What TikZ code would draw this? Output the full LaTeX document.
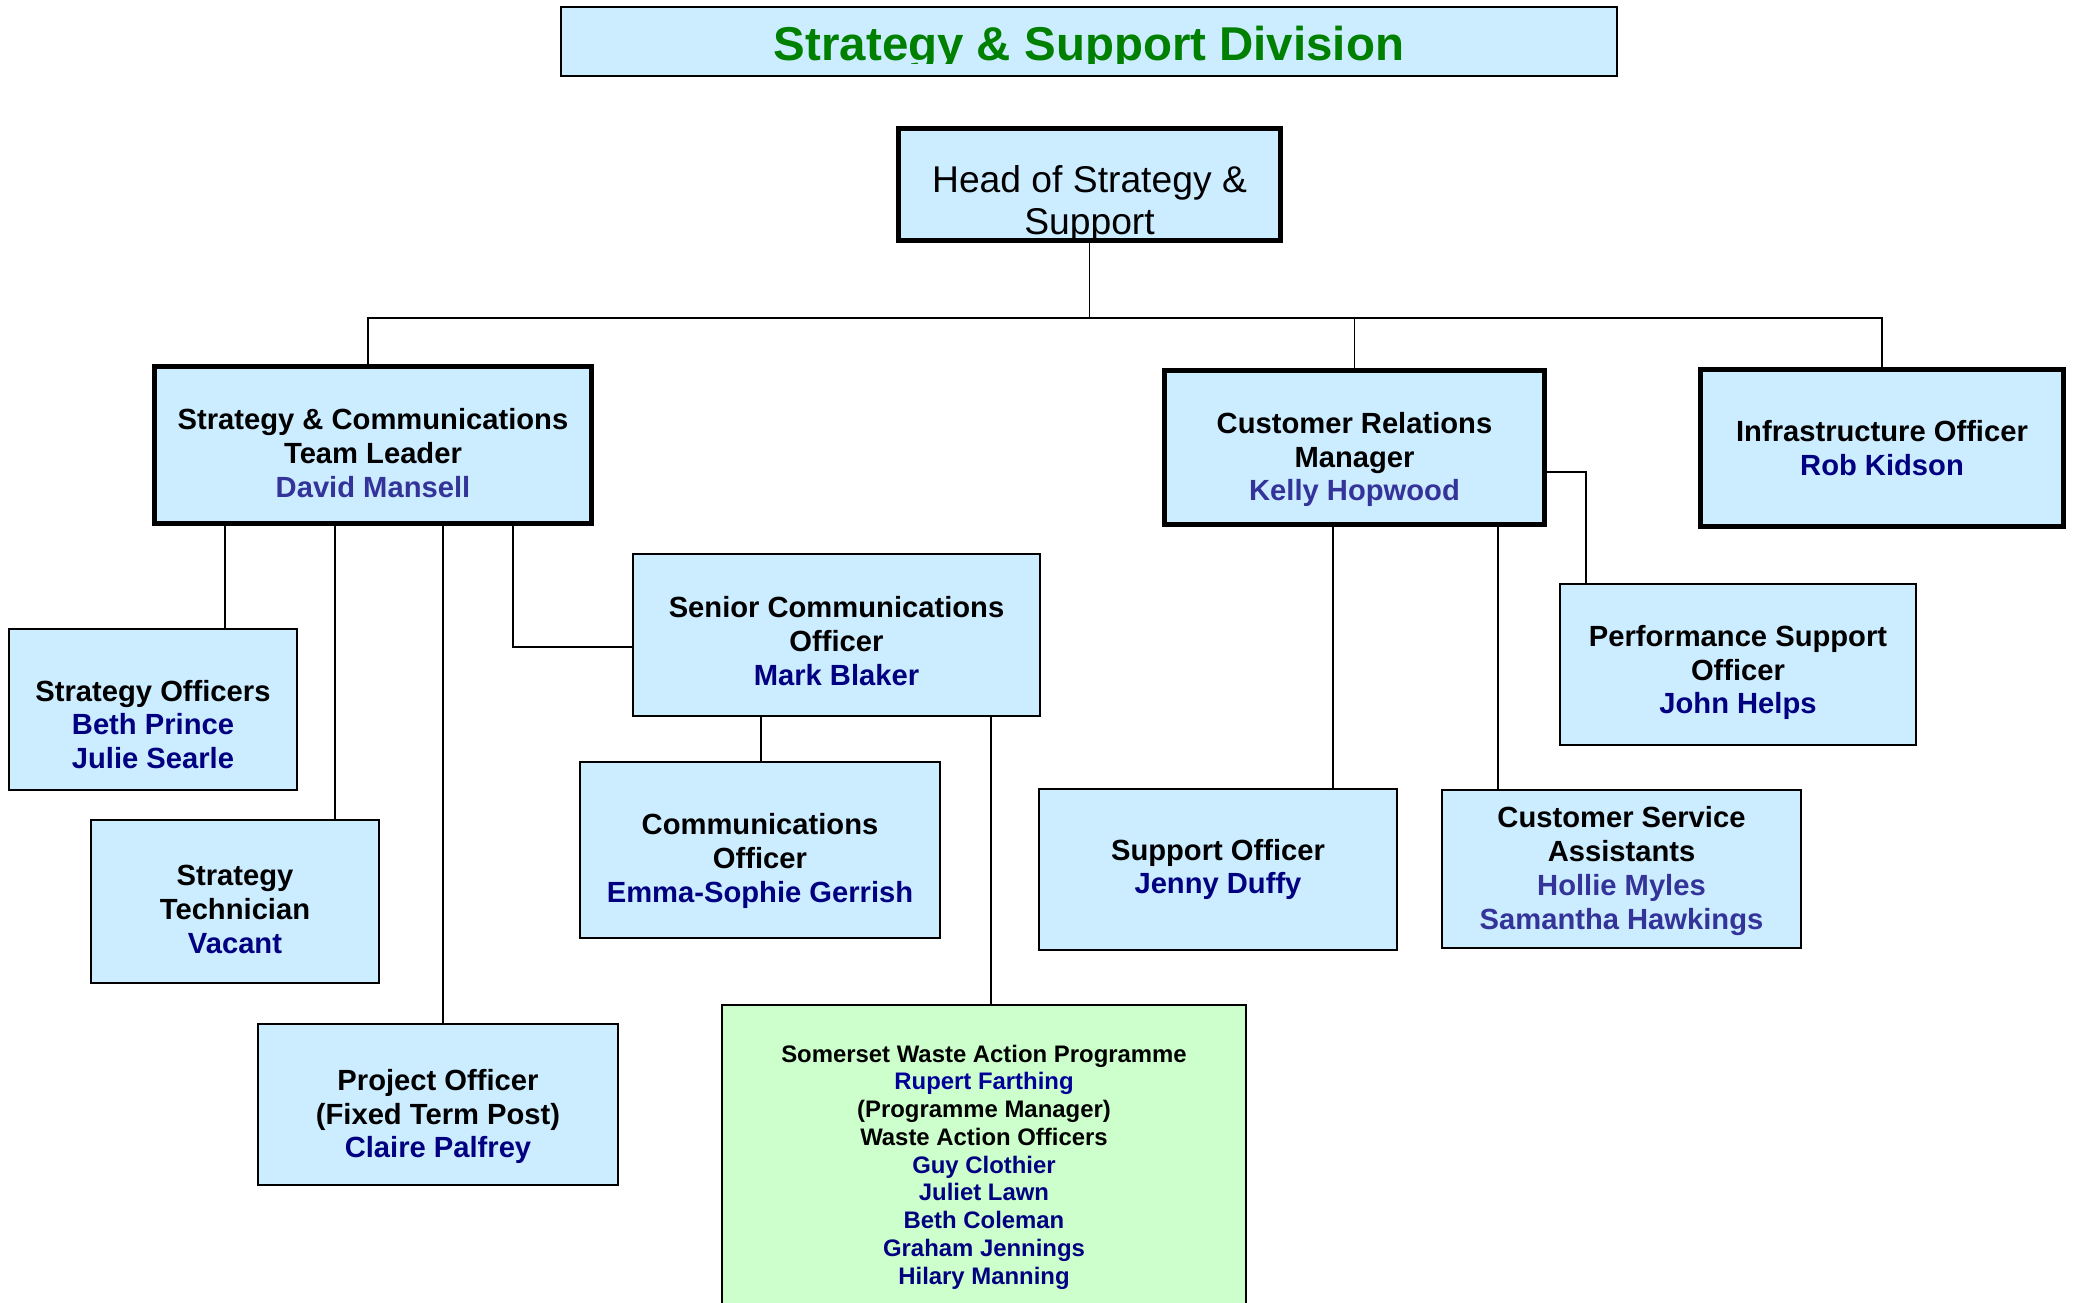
\documentclass[tikz,border=0pt]{standalone}
\usepackage{fontspec}
\setmainfont{Liberation Sans}
\usepackage{xcolor}
\definecolor{boxblue}{RGB}{204,236,255}
\definecolor{boxgreen}{RGB}{204,255,204}
\definecolor{titlegreen}{RGB}{0,128,0}
\definecolor{namenavy}{RGB}{0,0,128}
\definecolor{namepurple}{RGB}{51,51,153}
\definecolor{nameblue}{RGB}{0,0,153}

\begin{document}
\begin{tikzpicture}[
box/.style={draw, fill=boxblue, line width=0.5pt, inner sep=0pt},
leadbox/.style={box, line width=1.5pt},
boxtext/.style={inner sep=0pt, align=center, font=\bfseries\fontsize{8.3}{9.6}\selectfont},
link/.style={line width=0.4pt}
]
\useasboundingbox (0,0) rectangle (20.78,-13.03);

\node[box, line width=0.6pt, minimum width=10.56cm, minimum height=0.69cm] (title) at (10.89,-0.415) {};
\begin{scope}
\clip (title.north west) rectangle (16.17,-0.64);
\node[anchor=base, inner sep=0pt, text=titlegreen, font=\bfseries\fontsize{13.5}{16}\selectfont] (titletext) at (10.89,-0.61) {Strategy \& Support Division};
\end{scope}

\node[leadbox, minimum width=3.82cm, minimum height=1.12cm] (head) at (10.895,-1.845) {};
\node[align=center, inner sep=0pt, font=\fontsize{10.6}{11.9}\selectfont] (headtext) at (10.895,-2.04) {Head of Strategy \&\\Support};

\node[leadbox, minimum width=4.37cm, minimum height=1.57cm] (sct) at (3.73,-4.45) {};
\node[boxtext] (scttext) at ([yshift=-0.08cm]sct) {Strategy \& Communications\\Team Leader\\\textcolor{namepurple}{David Mansell}};
\node[leadbox, minimum width=3.80cm, minimum height=1.54cm] (crm) at (13.545,-4.475) {};
\node[boxtext] (crmtext) at ([yshift=-0.12cm]crm) {Customer Relations\\Manager\\\textcolor{namepurple}{Kelly Hopwood}};
\node[leadbox, minimum width=3.63cm, minimum height=1.57cm] (infra) at (18.82,-4.48) {};
\node[boxtext] (infratext) at (infra) {Infrastructure Officer\\\textcolor{namenavy}{Rob Kidson}};

\node[box, minimum width=2.88cm, minimum height=1.61cm] (stoff) at (1.53,-7.095) {};
\node[boxtext] (stofftext) at ([yshift=-0.15cm]stoff) {Strategy Officers\\\textcolor{namenavy}{Beth Prince}\\\textcolor{namenavy}{Julie Searle}};
\node[box, minimum width=2.88cm, minimum height=1.63cm] (stech) at (2.35,-9.015) {};
\node[boxtext] (stechtext) at ([yshift=-0.08cm]stech) {Strategy\\Technician\\\textcolor{namenavy}{Vacant}};
\node[box, minimum width=3.60cm, minimum height=1.61cm] (proj) at (4.38,-11.045) {};
\node[boxtext] (projtext) at ([yshift=-0.12cm]proj) {Project Officer\\(Fixed Term Post)\\\textcolor{namenavy}{Claire Palfrey}};
\node[box, minimum width=4.07cm, minimum height=1.62cm] (senior) at (8.365,-6.35) {};
\node[boxtext] (seniortext) at ([yshift=-0.06cm]senior) {Senior Communications\\Officer\\\textcolor{namenavy}{Mark Blaker}};
\node[box, minimum width=3.60cm, minimum height=1.76cm] (comms) at (7.60,-8.50) {};
\node[boxtext] (commstext) at ([yshift=-0.11cm]comms) {Communications\\Officer\\\textcolor{namenavy}{Emma-Sophie Gerrish}};
\node[box, fill=boxgreen, minimum width=5.24cm, minimum height=3.18cm] (swap) at (9.84,-11.64) {};
\node[boxtext, font=\bfseries\fontsize{6.8}{7.9}\selectfont] (swaptext) at ([yshift=-0.03cm]swap) {Somerset Waste Action Programme\\\textcolor{nameblue}{Rupert Farthing}\\(Programme Manager)\\Waste Action Officers\\\textcolor{namenavy}{Guy Clothier}\\\textcolor{namenavy}{Juliet Lawn}\\\textcolor{namenavy}{Beth Coleman}\\\textcolor{namenavy}{Graham Jennings}\\\textcolor{namenavy}{Hilary Manning}};

\node[box, minimum width=3.58cm, minimum height=1.61cm] (support) at (12.18,-8.695) {};
\node[boxtext] (supporttext) at (support) {Support Officer\\\textcolor{namenavy}{Jenny Duffy}};
\node[box, minimum width=3.59cm, minimum height=1.58cm] (csa) at (16.215,-8.69) {};
\node[boxtext] (csatext) at ([yshift=-0.02cm]csa) {Customer Service\\Assistants\\\textcolor{namepurple}{Hollie Myles}\\\textcolor{namepurple}{Samantha Hawkings}};
\node[box, minimum width=3.56cm, minimum height=1.61cm] (perf) at (17.38,-6.645) {};
\node[boxtext] (perftext) at ([yshift=-0.08cm]perf) {Performance Support\\Officer\\\textcolor{namenavy}{John Helps}};

\coordinate (bus) at (0,-3.18);
\draw[link] (head.south) -- (head.south |- bus);
\draw[link] (3.68,0 |- sct.north) |- (infra.north |- bus) -- (infra.north);
\draw[link] (crm.north) -- (crm.north |- bus);

\draw[link] (2.25,0 |- sct.south) -- (2.25,0 |- stoff.north);
\draw[link] (3.35,0 |- sct.south) -- (3.35,0 |- stech.north);
\draw[link] (4.43,0 |- sct.south) -- (4.43,0 |- proj.north);
\draw[link] (5.13,0 |- sct.south) |- ([yshift=-0.12cm]senior.west);
\draw[link] (7.61,0 |- senior.south) -- (7.61,0 |- comms.north);
\draw[link] (9.91,0 |- senior.south) -- (9.91,0 |- swap.north);

\draw[link] (13.33,0 |- crm.south) -- (13.33,0 |- support.north);
\draw[link] (14.98,0 |- crm.south) -- (14.98,0 |- csa.north);
\draw[link] ([yshift=-0.245cm]crm.east) -| (15.86,0 |- perf.north);

\end{tikzpicture}
\end{document}
